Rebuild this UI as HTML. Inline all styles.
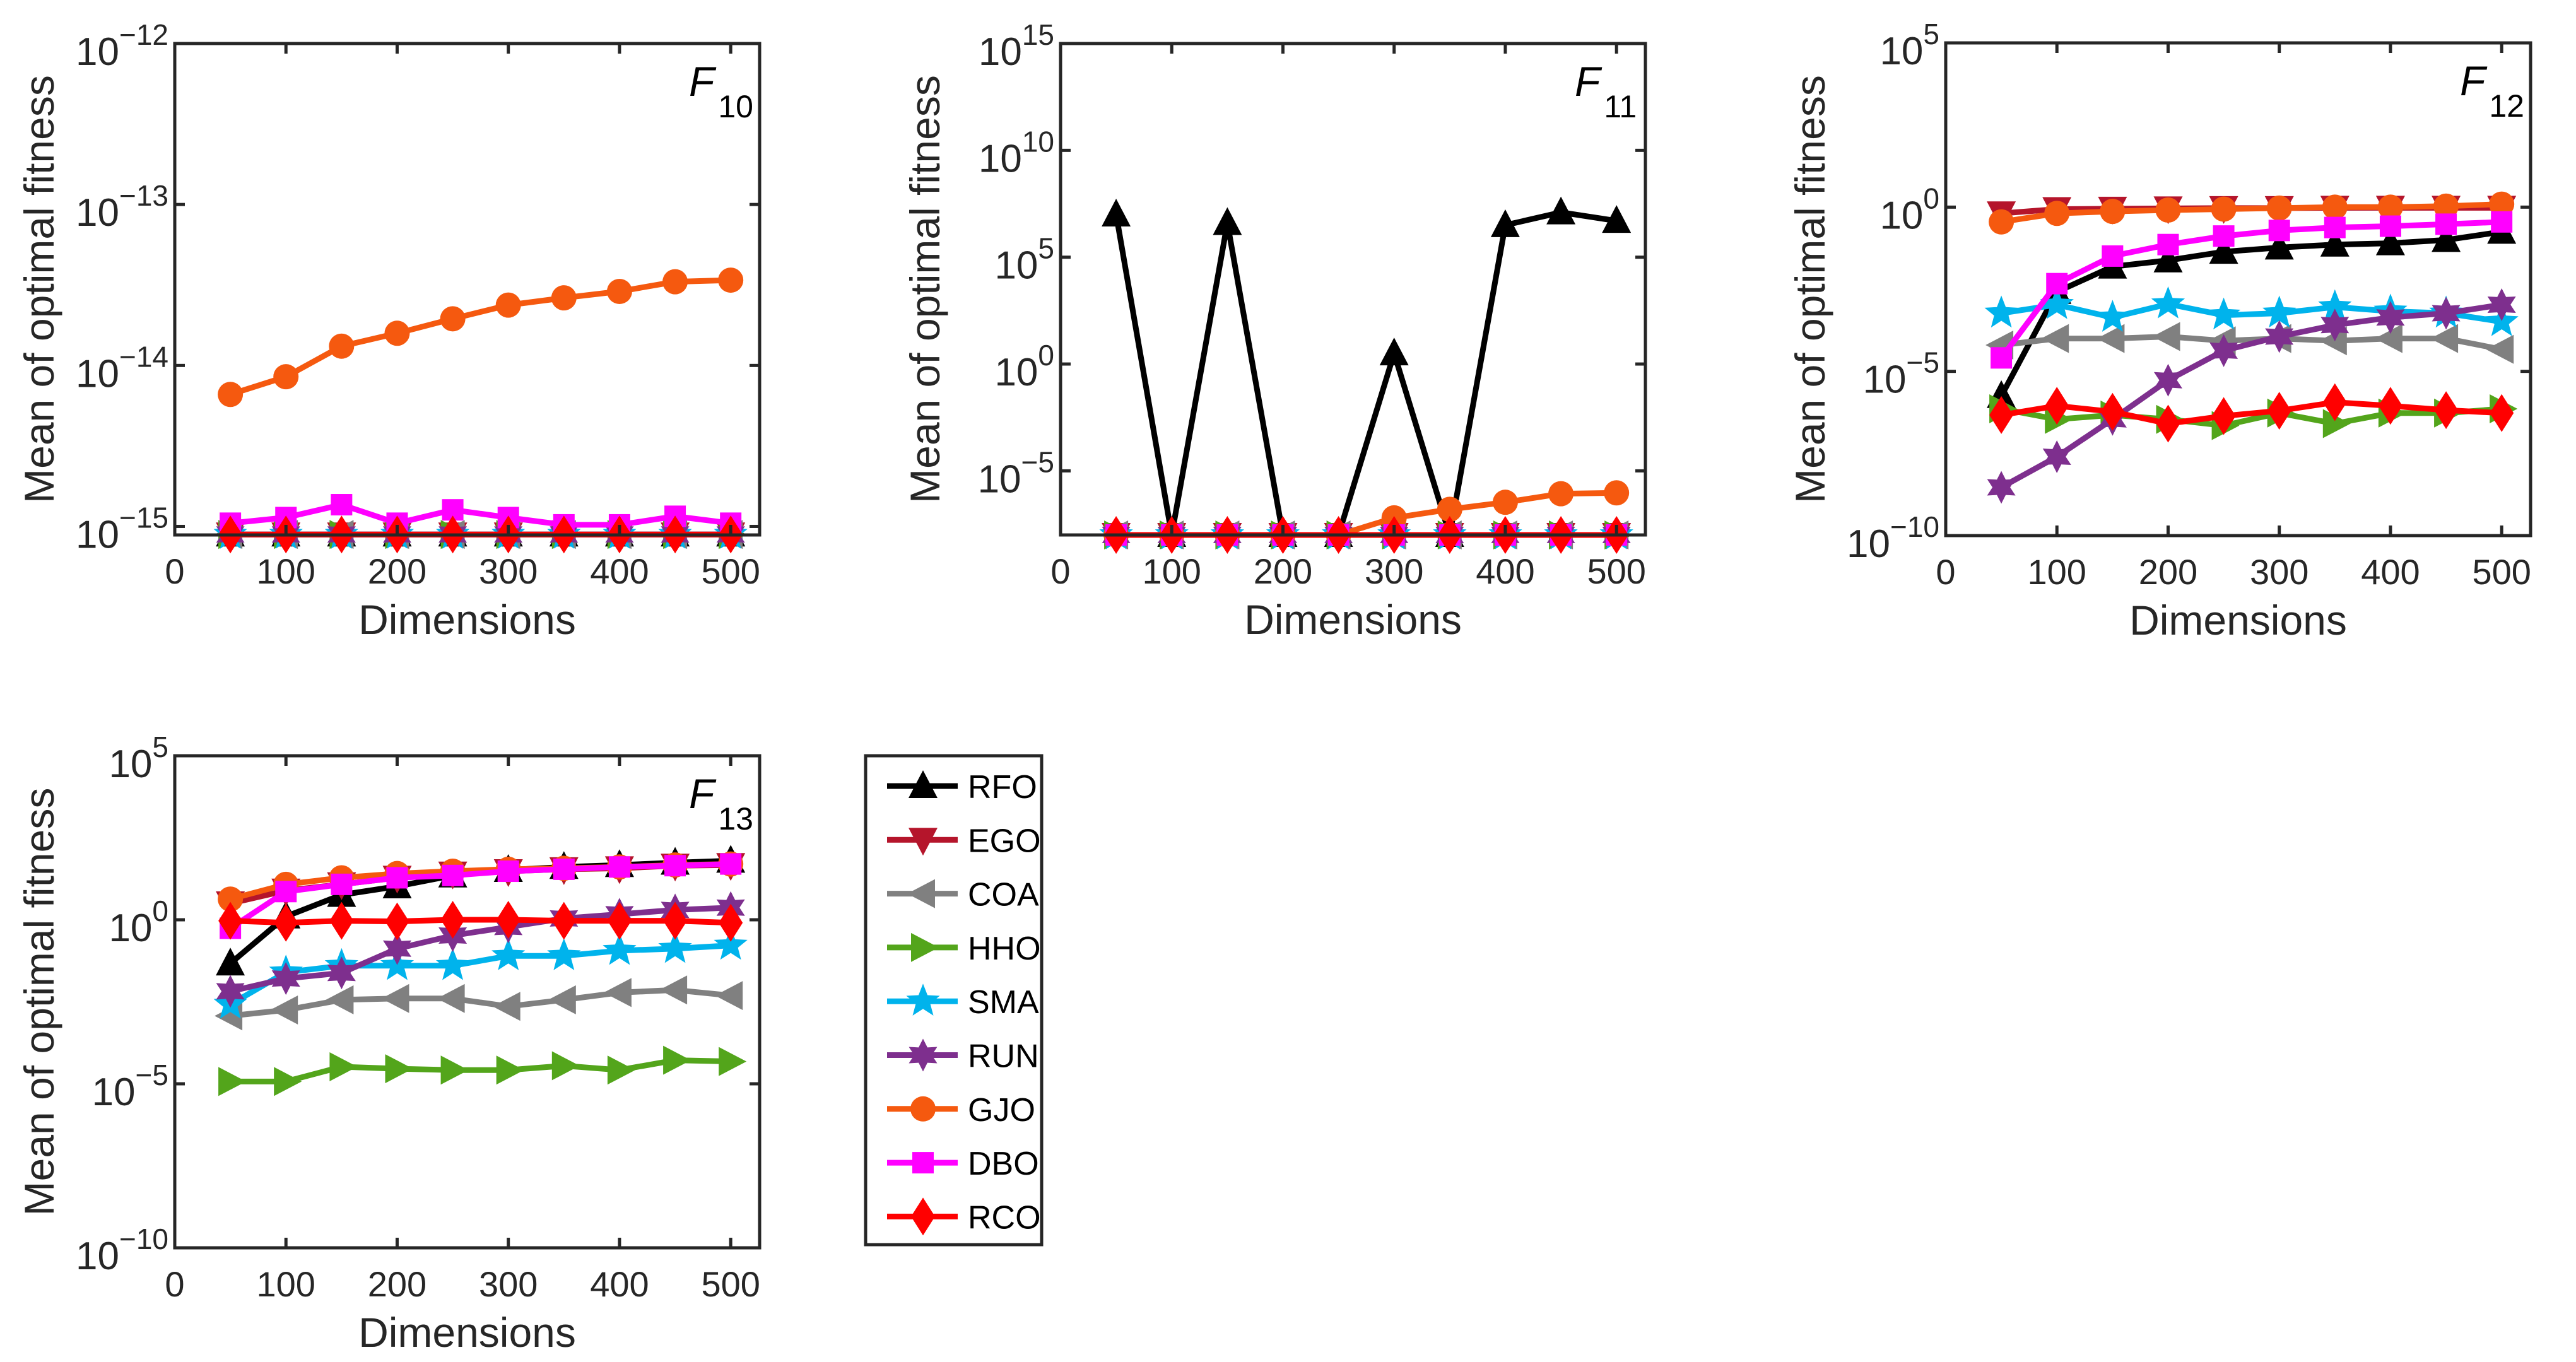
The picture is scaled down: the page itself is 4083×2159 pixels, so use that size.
<!DOCTYPE html>
<html><head><meta charset="utf-8"><style>
html,body{margin:0;padding:0;background:#fff;}
svg{display:block;font-family:"Liberation Sans",Arial,sans-serif;}
</style></head><body>
<svg id="fig" width="4083" height="2159" viewBox="0 0 4083 2159" xmlns="http://www.w3.org/2000/svg"></svg>
<script>
// ---- data (log10 of mean optimal fitness) ----
const dims = [50,100,150,200,250,300,350,400,450,500];
const xTicks = [0,100,200,300,400,500];
const algNames = ["RFO","EGO","COA","HHO","SMA","RUN","GJO","DBO","RCO"];

const f10_rfo = [-15.05,-15.05,-15.05,-15.05,-15.05,-15.05,-15.05,-15.05,-15.05,-15.05];
const f10_ego = [-15.05,-15.05,-15.05,-15.05,-15.05,-15.05,-15.05,-15.05,-15.05,-15.05];
const f10_coa = [-15.05,-15.05,-15.05,-15.05,-15.05,-15.05,-15.05,-15.05,-15.05,-15.05];
const f10_hho = [-15.05,-15.05,-15.05,-15.05,-15.05,-15.05,-15.05,-15.05,-15.05,-15.05];
const f10_sma = [-15.05,-15.05,-15.05,-15.05,-15.05,-15.05,-15.05,-15.05,-15.05,-15.05];
const f10_run = [-15.05,-15.05,-15.05,-15.05,-15.05,-15.05,-15.05,-15.05,-15.05,-15.05];
const f10_gjo = [-14.18,-14.07,-13.88,-13.80,-13.71,-13.625,-13.58,-13.54,-13.48,-13.47];
const f10_dbo = [-14.98,-14.945,-14.865,-14.98,-14.897,-14.945,-14.99,-14.99,-14.937,-14.98];
const f10_rco = [-15.05,-15.05,-15.05,-15.05,-15.05,-15.05,-15.05,-15.05,-15.05,-15.05];
const f10_yticks = [-15,-14,-13,-12];

const f11_rfo = [7.0,-8,6.6,-8,-8,0.5,-8,6.5,7.1,6.7];
const f11_ego = [-8,-8,-8,-8,-8,-8,-8,-8,-8,-8];
const f11_coa = [-8,-8,-8,-8,-8,-8,-8,-8,-8,-8];
const f11_hho = [-8,-8,-8,-8,-8,-8,-8,-8,-8,-8];
const f11_sma = [-8,-8,-8,-8,-8,-8,-8,-8,-8,-8];
const f11_run = [-8,-8,-8,-8,-8,-8,-8,-8,-8,-8];
const f11_gjo = [-8,-8,-8,-8,-8,-7.2,-6.8,-6.47,-6.07,-6.03];
const f11_dbo = [-8,-8,-8,-8,-8,-8,-8,-8,-8,-8];
const f11_rco = [-8,-8,-8,-8,-8,-8,-8,-8,-8,-8];
const f11_yticks = [-5,0,5,10,15];

const f12_rfo = [-5.75,-2.58,-1.81,-1.62,-1.36,-1.23,-1.14,-1.10,-1.0,-0.75];
const f12_ego = [-0.19,-0.06,-0.05,-0.04,-0.03,-0.03,-0.02,-0.02,-0.02,-0.02];
const f12_coa = [-4.2,-4.0,-4.0,-3.94,-4.07,-4.0,-4.07,-4.0,-4.0,-4.33];
const f12_hho = [-6.14,-6.46,-6.33,-6.46,-6.65,-6.27,-6.59,-6.27,-6.27,-6.14];
const f12_sma = [-3.23,-2.97,-3.36,-2.95,-3.29,-3.23,-3.04,-3.17,-3.23,-3.49];
const f12_run = [-8.53,-7.6,-6.46,-5.27,-4.37,-3.94,-3.59,-3.36,-3.23,-2.97];
const f12_gjo = [-0.45,-0.19,-0.13,-0.09,-0.06,-0.03,0,0,0.03,0.09];
const f12_dbo = [-4.59,-2.33,-1.49,-1.14,-0.88,-0.71,-0.62,-0.58,-0.52,-0.45];
const f12_rco = [-6.33,-6.05,-6.23,-6.59,-6.36,-6.2,-5.94,-6.05,-6.18,-6.27];
const f12_yticks = [-10,-5,0,5];

const f13_rfo = [-1.33,0.1,0.76,1.02,1.35,1.52,1.61,1.67,1.74,1.8];
const f13_ego = [0.5,0.89,1.08,1.28,1.41,1.48,1.54,1.57,1.65,1.67];
const f13_coa = [-2.93,-2.75,-2.44,-2.4,-2.4,-2.64,-2.44,-2.22,-2.14,-2.31];
const f13_hho = [-4.93,-4.93,-4.48,-4.54,-4.58,-4.58,-4.45,-4.58,-4.28,-4.32];
const f13_sma = [-2.58,-1.6,-1.4,-1.4,-1.4,-1.1,-1.1,-0.94,-0.88,-0.78];
const f13_run = [-2.18,-1.79,-1.62,-0.88,-0.48,-0.22,0.04,0.17,0.3,0.37];
const f13_gjo = [0.63,1.08,1.28,1.41,1.48,1.54,1.57,1.61,1.67,1.7];
const f13_dbo = [-0.26,0.86,1.08,1.28,1.35,1.48,1.54,1.61,1.65,1.7];
const f13_rco = [-0.03,-0.09,-0.03,-0.05,0,0,-0.03,-0.03,-0.03,-0.09];
const f13_yticks = [-10,-5,0,5];

// ---- styles ----
const colors = ["#000000","#b5152b","#808080","#53a51b","#00b3ec","#7e2f8e","#f5590f","#ff00ff","#ff0000"];
const markers = ["tu","td","tl","tr","s5","s6","ci","sq","di"];
const XMAX = 526;

const NS = "http://www.w3.org/2000/svg";
const svg = document.getElementById("fig");
function mk(tag, attrs, parent){
  const e = document.createElementNS(NS, tag);
  for (const k in attrs) e.setAttribute(k, attrs[k]);
  (parent||svg).appendChild(e);
  return e;
}
function starPts(cx,cy,n,R,r){
  let p=[];
  for(let i=0;i<2*n;i++){
    const a=-Math.PI/2+i*Math.PI/n, rr=i%2?r:R;
    p.push((cx+rr*Math.cos(a)).toFixed(1)+","+(cy+rr*Math.sin(a)).toFixed(1));
  }
  return p.join(" ");
}
function marker(g,type,cx,cy,col,name){
  let e; const s=23;
  if(type==="ci") e=mk("circle",{cx:cx,cy:cy,r:20,fill:col},g);
  else if(type==="sq") e=mk("rect",{x:cx-17,y:cy-17,width:34,height:34,fill:col},g);
  else {
    let pts;
    if(type==="tu") pts=[[cx,cy-s-2],[cx+s,cy+s-4],[cx-s,cy+s-4]];
    else if(type==="td") pts=[[cx,cy+s+2],[cx+s,cy-s+4],[cx-s,cy-s+4]];
    else if(type==="tl") pts=[[cx-s-2,cy],[cx+s-4,cy-s],[cx+s-4,cy+s]];
    else if(type==="tr") pts=[[cx+s+2,cy],[cx-s+4,cy-s],[cx-s+4,cy+s]];
    else if(type==="di") pts=[[cx,cy-30],[cx+19,cy],[cx,cy+30],[cx-19,cy]];
    if(pts) e=mk("polygon",{points:pts.map(p=>p[0].toFixed(1)+","+p[1].toFixed(1)).join(" "),fill:col},g);
    else if(type==="s5") e=mk("polygon",{points:starPts(cx,cy,5,28,12),fill:col},g);
    else if(type==="s6") e=mk("polygon",{points:starPts(cx,cy,6,26,14),fill:col},g);
  }
  
  
}

function panel(p){
  const g = mk("g",{});
  
  
  const W=p.R-p.L, H=p.B-p.T;
  const xs = v => p.L + v/XMAX*W;
  const ys = v => p.B - (v-p.ymin)/(p.ymax-p.ymin)*H;
  p.series.forEach((arr,si)=>{
    const sg = mk("g",{},g);
    
    
    const d = arr.map((v,i)=>(i?"L":"M")+xs(dims[i]).toFixed(1)+" "+ys(v).toFixed(1)).join(" ");
    const ln = mk("path",{d:d,fill:"none",stroke:colors[si],"stroke-width":9,"stroke-linejoin":"round"},sg);
    
    
    arr.forEach((v,i)=>marker(sg,markers[si],xs(dims[i]),ys(v),colors[si],'point-'+algNames[si].toLowerCase()));
  });
  const box = mk("rect",{x:p.L,y:p.T,width:W,height:H,fill:"none",stroke:"#262626","stroke-width":5},g);
  
  
  const xt = mk("g",{},g);
  
  
  xTicks.forEach(t=>{
    const x=xs(t);
    mk("line",{x1:x,y1:p.B,x2:x,y2:p.B-16,stroke:"#262626","stroke-width":5},xt);
    mk("line",{x1:x,y1:p.T,x2:x,y2:p.T+16,stroke:"#262626","stroke-width":5},xt);
    const tx = mk("text",{x:x,y:p.B+77,"font-size":56,"text-anchor":"middle",fill:"#262626"},xt);
    tx.textContent=t;
    
    
  });
  const xl = mk("text",{x:(p.L+p.R)/2,y:p.B+157,"font-size":66,"text-anchor":"middle",fill:"#262626"},g);
  xl.textContent="Dimensions";
  
  
  const yt = mk("g",{},g);
  
  
  p.yticks.forEach(t=>{
    const y=ys(t);
    mk("line",{x1:p.L,y1:y,x2:p.L+16,y2:y,stroke:"#262626","stroke-width":5},yt);
    mk("line",{x1:p.R,y1:y,x2:p.R-16,y2:y,stroke:"#262626","stroke-width":5},yt);
    const tx = mk("text",{x:p.L-10,y:y+34,"font-size":62,"text-anchor":"end",fill:"#262626"},yt);
    
    
    const a = mk("tspan",{},tx); a.textContent="10";
    const b = mk("tspan",{dy:-32,"font-size":46},tx); b.textContent=(t<0?"\u2212":"")+Math.abs(t);
  });
  const cy=(p.T+p.B)/2;
  const yl = mk("text",{x:0,y:0,"font-size":66,"text-anchor":"middle",fill:"#262626",transform:"translate("+(p.L-192)+","+cy+") rotate(-90)"},g);
  yl.textContent="Mean of optimal fitness";
  
  
  const tt = mk("text",{x:p.R-112,y:p.T+83,"font-size":66,fill:"#000"},g);
  
  
  const f = mk("tspan",{"font-style":"italic"},tt); f.textContent="F";
  const sub = mk("tspan",{dx:6,dy:34,"font-size":50},tt); sub.textContent=p.label;
}

panel({name:"panel-f10",L:277,R:1204,T:69,B:848,ymin:-15.053,ymax:-12,yticks:f10_yticks,label:"10",
  series:[f10_rfo,f10_ego,f10_coa,f10_hho,f10_sma,f10_run,f10_gjo,f10_dbo,f10_rco]});
panel({name:"panel-f11",L:1681,R:2608,T:69,B:848,ymin:-8,ymax:15,yticks:f11_yticks,label:"11",
  series:[f11_rfo,f11_ego,f11_coa,f11_hho,f11_sma,f11_run,f11_gjo,f11_dbo,f11_rco]});
panel({name:"panel-f12",L:3084,R:4011,T:68,B:849,ymin:-10,ymax:5,yticks:f12_yticks,label:"12",
  series:[f12_rfo,f12_ego,f12_coa,f12_hho,f12_sma,f12_run,f12_gjo,f12_dbo,f12_rco]});
panel({name:"panel-f13",L:277,R:1204,T:1198,B:1978,ymin:-10,ymax:5,yticks:f13_yticks,label:"13",
  series:[f13_rfo,f13_ego,f13_coa,f13_hho,f13_sma,f13_run,f13_gjo,f13_dbo,f13_rco]});

const lg = mk("g",{});


mk("rect",{x:1372,y:1198,width:279,height:775,fill:"#fff",stroke:"#262626","stroke-width":5},lg);
algNames.forEach((n,i)=>{
  const y = 1246 + i*85.3;
  const eg = mk("g",{},lg);
  
  
  mk("line",{x1:1406,y1:y,x2:1518,y2:y,stroke:colors[i],"stroke-width":9},eg);
  marker(eg,markers[i],1463,y,colors[i],'legend-marker');
  const t = mk("text",{x:1534,y:y+19,"font-size":52,fill:"#000"},eg);
  t.textContent=n;
});
</script>
</body></html>
